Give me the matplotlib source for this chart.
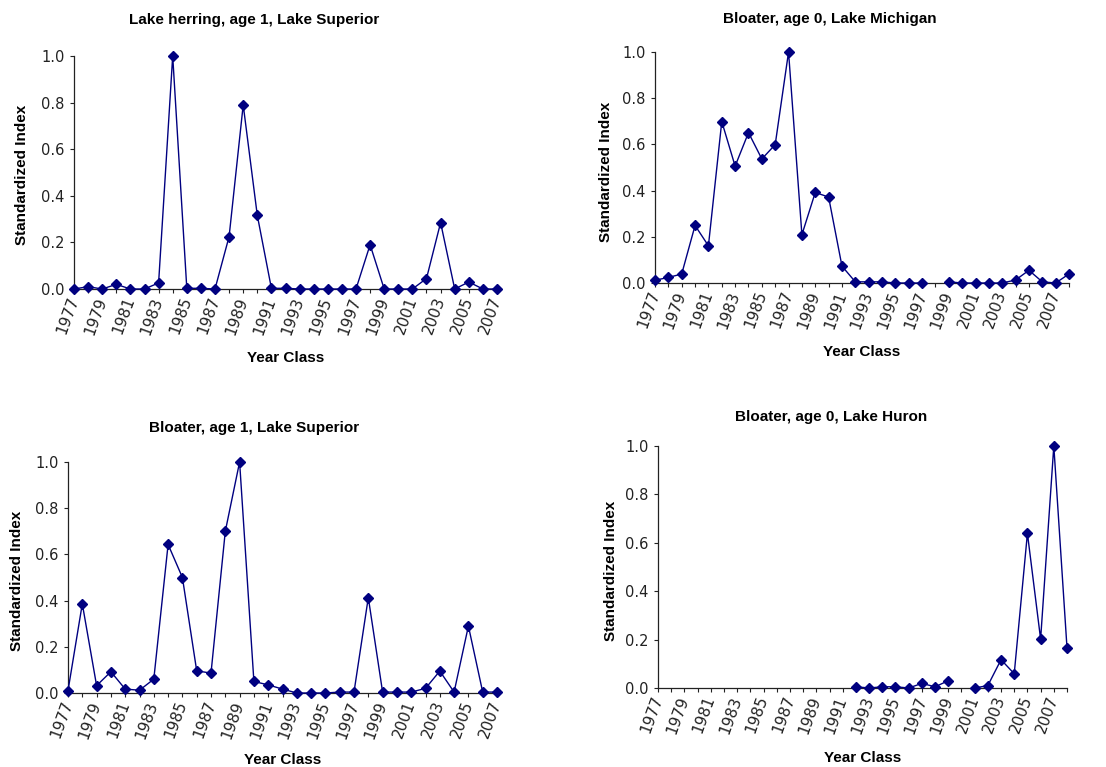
import numpy as np
import matplotlib
matplotlib.use("Agg")
import matplotlib.pyplot as plt

nan = np.nan

# Year classes
years_sup = list(range(1977, 2008))   # 1977-2007
years_long = list(range(1977, 2009))  # 1977-2008

herring_sup = [0.0, 0.01, 0.0, 0.02, 0.0, 0.0, 0.026, 1.0, 0.003, 0.003,
               0.0, 0.225, 0.79, 0.316, 0.003, 0.003, 0.0, 0.0, 0.0, 0.0,
               0.0, 0.19, 0.0, 0.0, 0.0, 0.045, 0.285, 0.0, 0.03, 0.0, 0.0]

bloater_mich = [0.012, 0.024, 0.039, 0.249, 0.161, 0.699, 0.506, 0.651, 0.537, 0.599,
                1.0, 0.209, 0.392, 0.372, 0.073, 0.005, 0.005, 0.005, 0.0, 0.0,
                0.0, nan, 0.005, 0.0, 0.0, 0.0, 0.0, 0.013, 0.055, 0.005, 0.0, 0.039]

bloater_sup = [0.01, 0.386, 0.032, 0.092, 0.017, 0.012, 0.06, 0.643, 0.5, 0.096,
               0.086, 0.70, 1.0, 0.05, 0.035, 0.017, 0.0, 0.0, 0.0, 0.004,
               0.004, 0.413, 0.004, 0.004, 0.004, 0.02, 0.095, 0.004, 0.29, 0.004, 0.004]

bloater_huron = [nan] * 15 + [0.005, 0.0, 0.005, 0.005, 0.0, 0.019, 0.005, 0.030,
                              nan, 0.0, 0.01, 0.117, 0.059, 0.639, 0.202, 1.0, 0.166]

yticks = [0.0, 0.2, 0.4, 0.6, 0.8, 1.0]

W, H = 1106, 767
fig = plt.figure(figsize=(W / 100, H / 100), dpi=100)

LINE = "#000080"
TXT_FONT = ["Liberation Sans", "DejaVu Sans"]
TICK_FONT = ["DejaVu Sans"]

panels = [
    # title, years, values, (left, right, top(1.0), bottom(0.0)), title xy, ylabel xy, xlabel xy
    ("Lake herring, age 1, Lake Superior", years_sup, herring_sup,
     (74, 497, 56, 289), (254, 20), (22, 175), (286, 358)),
    ("Bloater, age 0, Lake Michigan", years_long, bloater_mich,
     (655, 1069, 52, 283), (830, 19), (606, 172), (862, 352)),
    ("Bloater, age 1, Lake Superior", years_sup, bloater_sup,
     (68, 497, 462, 693), (254, 428), (17, 581), (283, 760)),
    ("Bloater, age 0, Lake Huron", years_long, bloater_huron,
     (658, 1067, 446, 688), (831, 417), (611, 571), (863, 758)),
]

for title, yrs, vals, (l, r, t, b), (tx, ty), (yx, yy), (xx, xy) in panels:
    ax = fig.add_axes([l / W, 1 - b / H, (r - l) / W, (b - t) / H])
    pos = np.arange(len(yrs))
    ax.plot(pos, vals, color=LINE, lw=1.0, marker="D", ms=5.2,
            mec=LINE, mfc=LINE, clip_on=False, zorder=3)
    ax.set_xlim(0, len(yrs) - 1)
    ax.set_ylim(0, 1.0)
    for s in ("top", "right"):
        ax.spines[s].set_visible(False)
    for s in ("left", "bottom"):
        ax.spines[s].set_color("#222222")
        ax.spines[s].set_linewidth(0.9)
    ax.set_yticks(yticks)
    ax.set_yticklabels([f"{v:.1f}" for v in yticks], fontfamily=TICK_FONT,
                       fontsize=10.5, color="#222222")
    ax.set_xticks(pos)
    ax.set_xticklabels([str(y) if (y - 1977) % 2 == 0 else "" for y in yrs],
                       fontfamily=TICK_FONT, fontsize=11, color="#222222",
                       rotation=70, ha="right", va="center", rotation_mode="anchor")
    ax.tick_params(axis="both", direction="out", length=3.2, width=0.8, color="#222222")
    ax.tick_params(axis="y", pad=3.5)
    ax.tick_params(axis="x", pad=3)

    fig.text(tx / W, 1 - ty / H, title, ha="center", va="center",
             fontfamily=TXT_FONT, fontweight="bold", fontsize=11)
    fig.text(yx / W, 1 - yy / H, "Standardized Index", ha="center", va="center",
             rotation=90, fontfamily=TXT_FONT, fontweight="bold", fontsize=11)
    fig.text(xx / W, 1 - xy / H, "Year Class", ha="center", va="center",
             fontfamily=TXT_FONT, fontweight="bold", fontsize=11)

fig.savefig("out.png", dpi=100, facecolor="white")
